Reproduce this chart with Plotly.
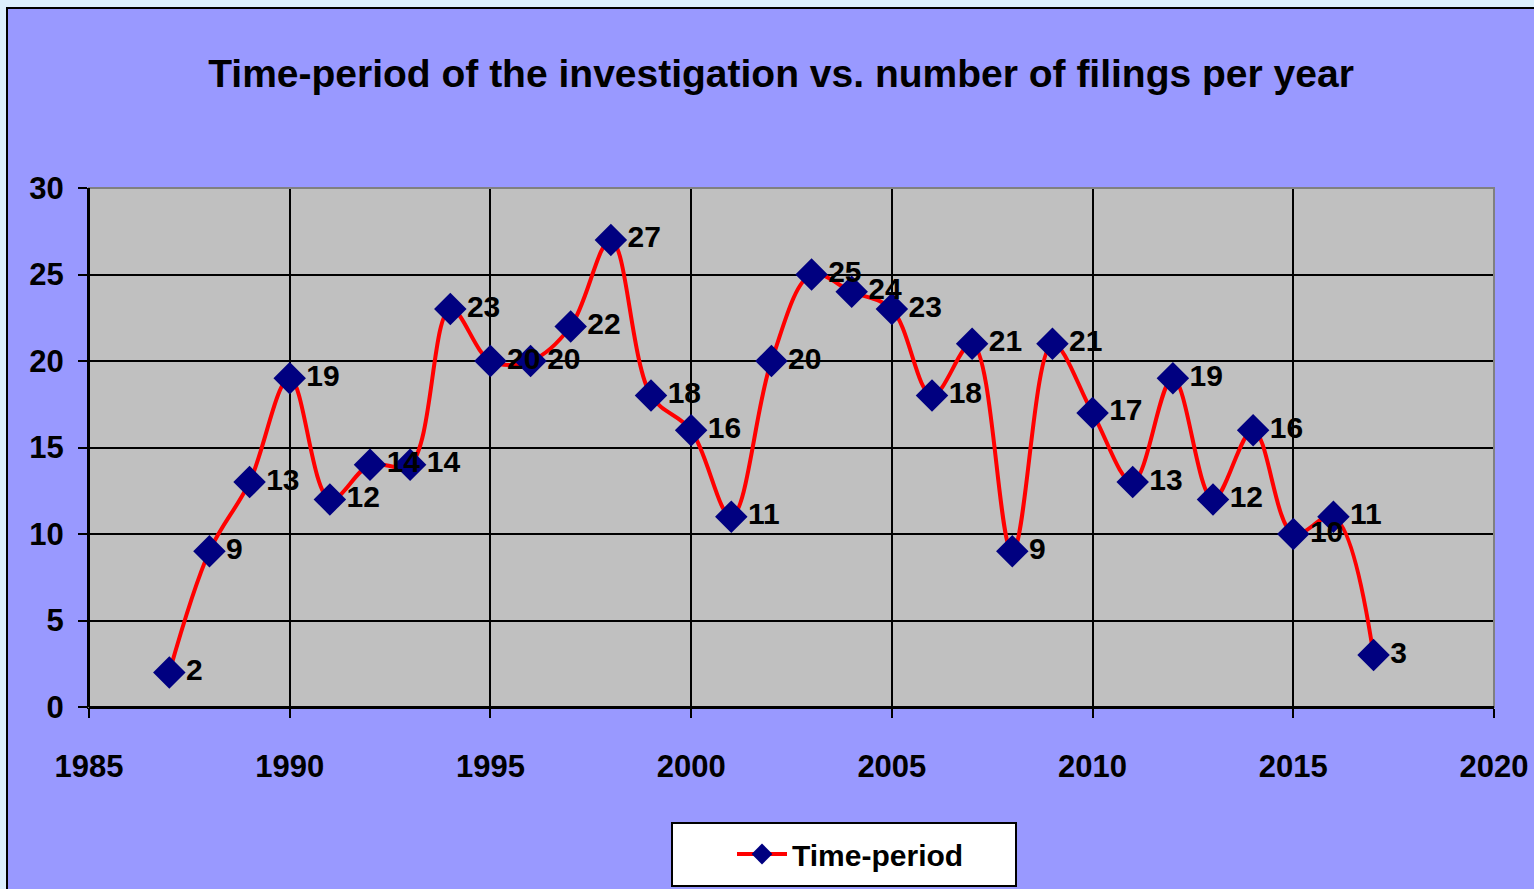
import plotly.graph_objects as go

years = [1987, 1988, 1989, 1990, 1991, 1992, 1993, 1994, 1995, 1996, 1997, 1998, 1999, 2000, 2001,
         2002, 2003, 2004, 2005, 2006, 2007, 2008, 2009, 2010, 2011, 2012, 2013, 2014, 2015, 2016, 2017]
filings = [2, 9, 13, 19, 12, 14, 14, 23, 20, 20, 22, 27, 18, 16, 11,
           20, 25, 24, 23, 18, 21, 9, 21, 17, 13, 19, 12, 16, 10, 11, 3]
series_name = "Time-period"
title_text = "Time-period of the investigation vs. number of filings per year"
x_ticks = [1985, 1990, 1995, 2000, 2005, 2010, 2015, 2020]
y_ticks = [0, 5, 10, 15, 20, 25, 30]

FONT = "Liberation Sans Narrow, Arial Narrow, Liberation Sans, Arial, sans-serif"

W, H = 1534, 889
L, R, T, B = 89, 40, 188, 182
pw, ph = W - L - R, H - T - B

def px(x):
    return (x - L) / pw

def py(y):
    return (H - B - y) / ph

fig = go.Figure()
fig.add_trace(go.Scatter(
    x=years, y=filings, name=series_name,
    mode="lines+markers+text",
    line=dict(color="#FF0000", width=4, shape="spline", smoothing=1.0),
    marker=dict(symbol="diamond", size=25, color="#000080", line=dict(width=0)),
    text=[str(v) for v in filings], textposition="middle right",
    textfont=dict(family=FONT, size=30, color="black", weight="bold"),
    cliponaxis=False,
))

fig.update_layout(
    width=W, height=H,
    margin=dict(l=L, r=R, t=T, b=B, pad=0, autoexpand=False),
    paper_bgcolor="#DCEFFD",
    plot_bgcolor="#C0C0C0",
    title=dict(text=title_text, x=781 / W, xref="container", xanchor="center",
               y=1 - 73 / H, yref="container", yanchor="middle",
               font=dict(family=FONT, size=39, color="black", weight="bold")),
    showlegend=True,
    legend=dict(x=px(732), y=py(854), xanchor="left", yanchor="middle",
                bgcolor="rgba(0,0,0,0)", borderwidth=0,
                font=dict(family=FONT, size=30, color="black", weight="bold"),
                itemwidth=50),
    xaxis=dict(range=[1985, 2020], tickvals=x_ticks, ticktext=[str(v) for v in x_ticks],
               automargin=False,
               showgrid=True, gridcolor="black", gridwidth=2, zeroline=False,
               showline=True, linecolor="black", linewidth=2,
               ticks="outside", ticklen=9, tickwidth=2, tickcolor="black",
               ticklabelstandoff=22,
               tickfont=dict(family=FONT, size=31, color="black", weight="bold")),
    yaxis=dict(range=[0, 30], tickvals=y_ticks, automargin=False,
               showgrid=True, gridcolor="black", gridwidth=2, zeroline=False,
               showline=True, linecolor="black", linewidth=2,
               ticks="outside", ticklen=9, tickwidth=2, tickcolor="black",
               ticklabelstandoff=8,
               tickfont=dict(family=FONT, size=31, color="black", weight="bold")),
    shapes=[
        dict(type="rect", xref="paper", yref="paper", layer="below",
             x0=px(7), x1=px(1560), y0=py(920), y1=py(8),
             fillcolor="#9999FF", line=dict(color="black", width=2)),
        dict(type="rect", xref="paper", yref="paper", layer="below",
             x0=0, x1=1, y0=0, y1=1, fillcolor="#C0C0C0", line=dict(width=0)),
        dict(type="rect", xref="paper", yref="paper", layer="above",
             x0=0, x1=1, y0=0, y1=1, line=dict(color="#808080", width=2)),
        dict(type="rect", xref="paper", yref="paper", layer="below",
             x0=px(672), x1=px(1016), y0=py(886), y1=py(823),
             fillcolor="white", line=dict(color="black", width=2)),
    ],
)
fig.add_shape(type="line", xref="paper", yref="paper", x0=0, x1=0, y0=0, y1=1,
              line=dict(color="black", width=2))
fig.add_shape(type="line", xref="paper", yref="paper", x0=0, x1=1, y0=0, y1=0,
              line=dict(color="black", width=2))

fig.write_html("out.html", config={"displayModeBar": False},
               post_script="document.body.style.margin='0';document.body.style.overflow='hidden';")
